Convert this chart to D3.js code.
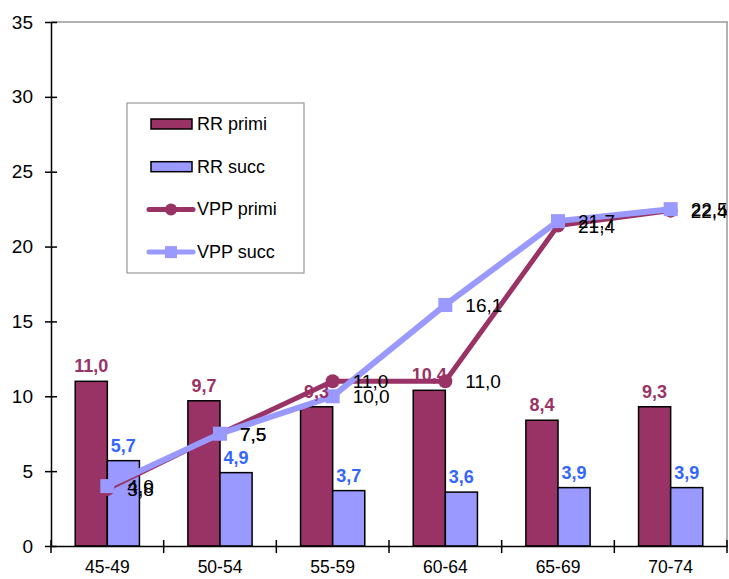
<!DOCTYPE html>
<html lang="it">
<head>
  <meta charset="UTF-8">
  <title>RR e VPP per classe di età</title>
  <script src="https://d3js.org/d3.v7.min.js"></script>
  <style>
    body { margin: 0; background: #fff; }
    svg { display: block; font-family: "Liberation Sans", Arial, sans-serif; }
    .lbl { font-size: 19px; fill: #000; }
  </style>
</head>
<body>
  <svg width="729" height="579"></svg>

  <script>
    // age classes
    const categories = ["45-49", "50-54", "55-59", "60-64", "65-69", "70-74"];
    const rrPrimi = [11.0, 9.7, 9.3, 10.4, 8.4, 9.3];
    const rrSucc = [5.7, 4.9, 3.7, 3.6, 3.9, 3.9];
    const vppPrimi = [3.8, 7.5, 11.0, 11.0, 21.4, 22.4];
    const vppSucc = [4.0, 7.5, 10.0, 16.1, 21.7, 22.5];
    const yTicks = [0, 5, 10, 15, 20, 25, 30, 35];

    const colPrimi = "#993366";
    const colSucc = "#9999ff";
    const colSuccLbl = "#3366ff";

    const fmt = v => v.toFixed(1).replace(".", ",");

    const svg = d3.select("svg");
    const pLeft = 51, pRight = 727, pTop = 22, pBottom = 546;

    const x = d3.scaleBand().domain(categories).range([pLeft, pRight]);
    const y = d3.scaleLinear().domain([0, 35]).range([pBottom, pTop]);
    const barW = x.bandwidth() * 0.285;
    const cx = c => x(c) + x.bandwidth() / 2;

    // plot frame (top and right)
    svg.append("path")
      .attr("d", `M${pLeft},${pTop}H${pRight}V${pBottom}`)
      .attr("fill", "none")
      .attr("stroke", "#999")
      .attr("stroke-width", 1.5);

    // bars
    const bars = svg.append("g");
    bars.selectAll("rect.p")
      .data(categories)
      .enter().append("rect")
      .attr("x", c => cx(c) - barW)
      .attr("y", (c, i) => y(rrPrimi[i]))
      .attr("width", barW)
      .attr("height", (c, i) => y(0) - y(rrPrimi[i]))
      .attr("fill", colPrimi)
      .attr("stroke", "#000")
      .attr("stroke-width", 1.5);
    bars.selectAll("rect.s")
      .data(categories)
      .enter().append("rect")
      .attr("x", c => cx(c))
      .attr("y", (c, i) => y(rrSucc[i]))
      .attr("width", barW)
      .attr("height", (c, i) => y(0) - y(rrSucc[i]))
      .attr("fill", colSucc)
      .attr("stroke", "#000")
      .attr("stroke-width", 1.5);

    // axes
    const yAxis = svg.append("g")
      .attr("transform", `translate(${pLeft},0)`)
      .call(d3.axisLeft(y).tickValues(yTicks).tickSize(6).tickPadding(12).tickSizeOuter(0));
    yAxis.selectAll(".tick line").attr("x2", 6).attr("x1", -6);
    yAxis.selectAll("text").attr("font-size", 19).attr("font-family", "Liberation Sans, Arial").attr("fill", "#000");

    const xAxis = svg.append("g")
      .attr("transform", `translate(0,${pBottom})`)
      .call(d3.axisBottom(x).tickSize(0).tickPadding(15).tickSizeOuter(0));
    xAxis.selectAll("text").attr("font-size", 17.5).attr("font-family", "Liberation Sans, Arial").attr("fill", "#000");
    svg.append("g").selectAll("line")
      .data(d3.range(categories.length + 1))
      .enter().append("line")
      .attr("x1", i => pLeft + i * x.bandwidth())
      .attr("x2", i => pLeft + i * x.bandwidth())
      .attr("y1", pBottom - 6)
      .attr("y2", pBottom + 7)
      .attr("stroke", "#000")
      .attr("stroke-width", 1.5);
    svg.selectAll(".domain").attr("stroke", "#000").attr("stroke-width", 1.5);
    svg.selectAll(".tick line").attr("stroke", "#000").attr("stroke-width", 1.5);

    // lines
    const line = d3.line().x((d, i) => cx(categories[i])).y(d => y(d));
    svg.append("path")
      .datum(vppPrimi)
      .attr("d", line)
      .attr("fill", "none")
      .attr("stroke", colPrimi)
      .attr("stroke-width", 5);
    svg.append("g").selectAll("circle")
      .data(vppPrimi)
      .enter().append("circle")
      .attr("cx", (d, i) => cx(categories[i]))
      .attr("cy", d => y(d))
      .attr("r", 7)
      .attr("fill", colPrimi);

    svg.append("path")
      .datum(vppSucc)
      .attr("d", line)
      .attr("fill", "none")
      .attr("stroke", colSucc)
      .attr("stroke-width", 6);
    svg.append("g").selectAll("rect")
      .data(vppSucc)
      .enter().append("rect")
      .attr("x", (d, i) => cx(categories[i]) - 7)
      .attr("y", d => y(d) - 7)
      .attr("width", 14)
      .attr("height", 14)
      .attr("fill", colSucc);

    // data labels
    svg.append("defs").append("clipPath").attr("id", "plotclip")
      .append("rect").attr("x", 0).attr("y", 0).attr("width", pRight).attr("height", 579);
    const labels = svg.append("g").attr("clip-path", "url(#plotclip)");

    labels.selectAll("text.bp")
      .data(rrPrimi)
      .enter().append("text")
      .attr("x", (d, i) => cx(categories[i]) - barW / 2)
      .attr("y", d => y(d) - 9)
      .attr("text-anchor", "middle")
      .attr("font-size", 18)
      .attr("font-weight", "bold")
      .attr("fill", colPrimi)
      .text(fmt);
    labels.selectAll("text.bs")
      .data(rrSucc)
      .enter().append("text")
      .attr("x", (d, i) => cx(categories[i]) + barW / 2)
      .attr("y", d => y(d) - 9)
      .attr("text-anchor", "middle")
      .attr("font-size", 18)
      .attr("font-weight", "bold")
      .attr("fill", colSuccLbl)
      .text(fmt);

    [vppPrimi, vppSucc].forEach(series => {
      labels.append("g").selectAll("text")
        .data(series)
        .enter().append("text")
        .attr("class", "lbl")
        .attr("x", (d, i) => cx(categories[i]) + 20)
        .attr("y", d => y(d) + 7)
        .text(fmt);
    });

    // legend
    const lg = svg.append("g");
    lg.append("rect")
      .attr("x", 127).attr("y", 103).attr("width", 177).attr("height", 170)
      .attr("fill", "#fff").attr("stroke", "#999").attr("stroke-width", 1.2);
    const legendItems = [
      { name: "RR primi", type: "bar", color: colPrimi },
      { name: "RR succ", type: "bar", color: colSucc },
      { name: "VPP primi", type: "circle", color: colPrimi },
      { name: "VPP succ", type: "square", color: colSucc }
    ];
    const item = lg.selectAll("g.item")
      .data(legendItems)
      .enter().append("g")
      .attr("transform", (d, i) => `translate(150,${124 + i * 42.7})`);
    item.filter(d => d.type === "bar").append("rect")
      .attr("x", 1).attr("y", -5).attr("width", 41).attr("height", 10)
      .attr("fill", d => d.color).attr("stroke", "#000").attr("stroke-width", 1.5);
    item.filter(d => d.type !== "bar").append("line")
      .attr("x1", -1).attr("x2", 43).attr("y1", 0).attr("y2", 0)
      .attr("stroke", d => d.color).attr("stroke-width", 5).attr("stroke-linecap", "round");
    item.filter(d => d.type === "circle").append("circle")
      .attr("cx", 21).attr("cy", 0).attr("r", 6).attr("fill", d => d.color);
    item.filter(d => d.type === "square").append("rect")
      .attr("x", 15).attr("y", -6).attr("width", 12).attr("height", 12).attr("fill", d => d.color);
    item.append("text")
      .attr("x", 47).attr("y", 6)
      .attr("font-size", 18)
      .attr("fill", "#000")
      .text(d => d.name);
  </script>
</body>
</html>
